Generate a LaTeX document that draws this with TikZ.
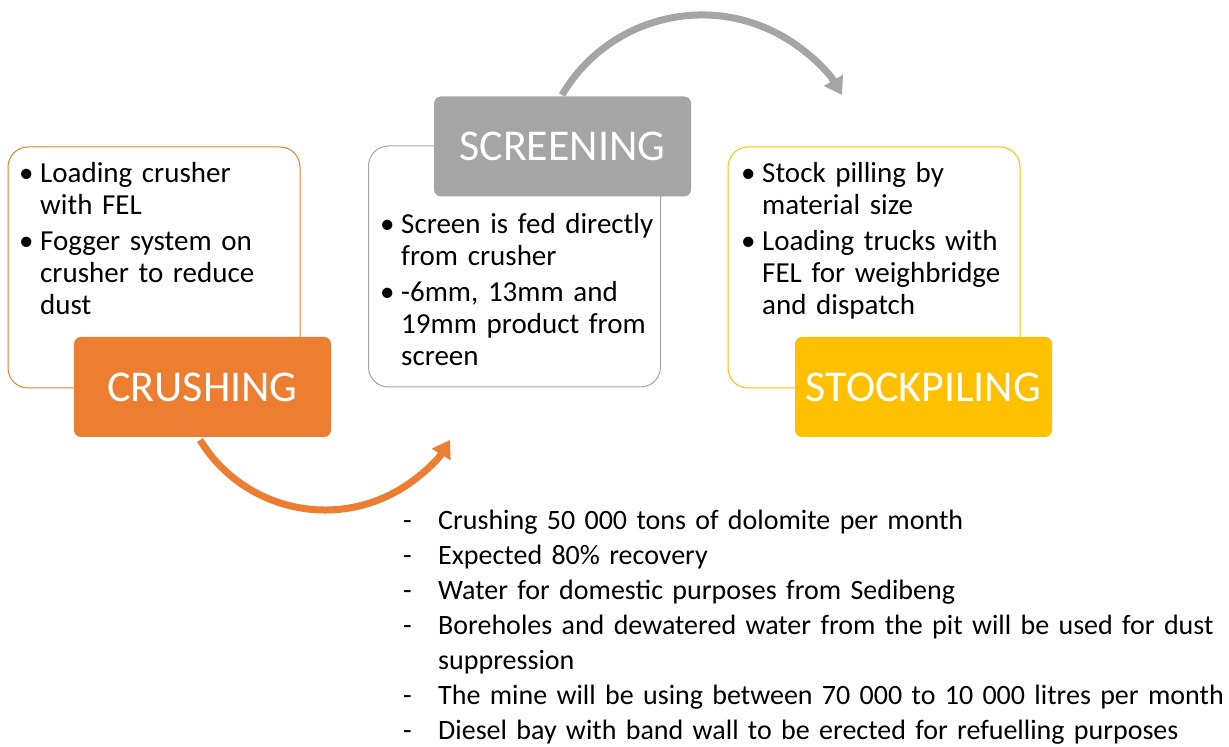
\documentclass[tikz,border=0pt]{standalone}
\usepackage{fontspec}
\setmainfont{Carlito}
\usetikzlibrary{arrows.meta}

\definecolor{crushorange}{HTML}{ED7D31}
\definecolor{screengray}{HTML}{A5A5A5}
\definecolor{stockyellow}{HTML}{FFC000}

% bullet and dash items, text kept in by \leftskip
\newcommand{\bitem}{\par\noindent\llap{\makebox[21pt][l]{\textbullet}}}
\newcommand{\ditem}{\par\noindent\llap{\makebox[35pt][l]{-}}}

\begin{document}
\begin{tikzpicture}[
  x=1pt, y=1pt,
  >={Triangle[length=17pt,width=21pt]},
  panel/.style={draw=#1, line width=1pt, fill=white, rounded corners=20pt, minimum width=292pt, minimum height=241pt},
  stage/.style={fill=#1, rounded corners=7pt, minimum width=257pt, minimum height=100pt, text=white, font=\fontsize{44}{52}\selectfont},
  notes/.style={anchor=north west, inner sep=0pt, text width=280pt, align=left, font=\fontsize{29}{32}\selectfont},
  flow/.style={->, line width=7pt, draw=#1}
]
\useasboundingbox (0,0) rectangle (1229,747);

\node[panel=crushorange] (crushbox) at (154,479.5) {};
\node[stage=crushorange] (crush) at (202.5,360) {CRUSHING};
\node[notes] (crushtxt) at (19,601) {\leftskip=21pt\parskip=4pt
  \bitem Loading crusher\newline with FEL
  \bitem Fogger system on\newline crusher to reduce\newline dust\par};

\node[panel=screengray] (screenbox) at (514.5,480.5) {};
\node[stage=screengray] (screen) at (562.5,600.5) {SCREENING};
\node[notes] (screentxt) at (380,550) {\leftskip=21pt\parskip=4pt
  \bitem Screen is fed directly\newline from crusher
  \bitem -6mm, 13mm and\newline 19mm product from\newline screen\par};

\node[panel=stockyellow] (stockbox) at (874,479.5) {};
\node[stage=stockyellow] (stock) at (923.5,360) {STOCKPILING};
\node[notes] (stocktxt) at (741,601) {\leftskip=21pt\parskip=4pt
  \bitem Stock pilling by\newline material size
  \bitem Loading trucks with\newline FEL for weighbridge\newline and dispatch\par};

\node[notes, text width=860pt, font=\fontsize{28}{35}\selectfont] (facts) at (403,253) {\leftskip=35pt
  \ditem Crushing 50 000 tons of dolomite per month
  \ditem Expected 80\% recovery
  \ditem Water for domestic purposes from Sedibeng
  \ditem Boreholes and dewatered water from the pit will be used for dust\newline suppression
  \ditem The mine will be using between 70 000 to 10 000 litres per month
  \ditem Diesel bay with band wall to be erected for refuelling purposes\par};

% flow arrows
\coordinate (crushout) at (200,307);
\coordinate (screenout) at (562,652);
\draw[flow=crushorange] (crushout) arc[start angle=211.5, end angle=328.5, radius=146.6];
\draw[flow=screengray] (screenout) arc[start angle=149.5, end angle=30.5, radius=162.5];
\end{tikzpicture}
\end{document}
